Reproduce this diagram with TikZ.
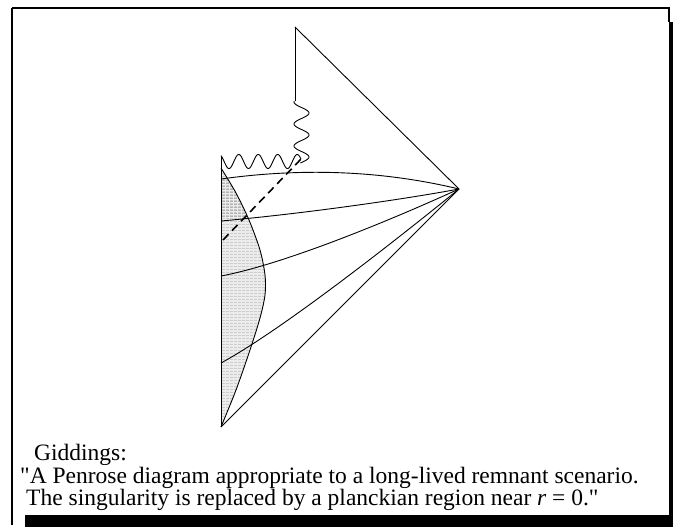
\documentclass[tikz,border=0pt]{standalone}
\usepackage{fontspec}
\setmainfont{Liberation Serif}
\begin{document}
\begin{tikzpicture}[x=1pt,y=-1pt,
  thin line/.style={line width=0.9pt, black},
  frame line/.style={line width=1.4pt, black},
  caption/.style={anchor=base west, inner sep=0pt, font=\fontsize{23.5}{27}\selectfont}]
\useasboundingbox (0,0) rectangle (673,527);
% frame with shadow
\draw[frame line] (12,8) -- (669,8) -- (669,22);
\draw[frame line] (12,8) -- (12,525);
\fill[black] (669,22) rectangle (673,527);
\fill[black] (25,515) rectangle (673,527);

% key points
\coordinate (top) at (295,27);
\coordinate (right) at (459,189);
\coordinate (bot) at (221,427);
\coordinate (lefttop) at (221,157);
\coordinate (vend) at (295,101);

% shaded planckian region
\begin{scope}
\clip plot[smooth] coordinates {(221,168) (236,193) (249,220) (260,250) (265,275) (265,295) (260,318) (250,350) (236,390) (221,427)} -- cycle;
\fill[gray!15] (215,160) rectangle (275,430);
\foreach \yy in {170,173,...,430}{
  \draw[gray!40, line width=0.7pt, dash pattern=on 3pt off 1pt] (218,\yy) -- (275,\yy);
}
\foreach \yy in {180,183,...,218}{
  \draw[gray!60, line width=0.8pt, dash pattern=on 3pt off 1pt] (218,\yy) -- (275,\yy);
}
\end{scope}
\draw[thin line] plot[smooth] coordinates {(221,168) (236,193) (249,220) (260,250) (265,275) (265,295) (260,318) (250,350) (236,390) (221,427)};

% outline
\draw[thin line] (top) -- (right);
\draw[thin line] (top) -- (vend);
\draw[thin line] (lefttop) -- (bot);
\draw[thin line] (bot) -- (right);

% curves to right vertex
\draw[thin line] (221,179) .. controls (300,168) and (380,170) .. (right);
\draw[thin line] (221,221) .. controls (300,214) and (400,200) .. (right);
\draw[thin line] (221,276) .. controls (280,265) and (380,225) .. (right);
\draw[thin line] (221,363) .. controls (280,331) and (390,245) .. (right);

% singularity wiggles
\draw[thin line] plot[domain=221:301, samples=160] (\x, {161.5 - 7*cos(18.4615*(\x-238.75))});
\draw[thin line] plot[domain=101:163, samples=140] ({301.5 + 7.5*cos(16.3636*(\x-113))}, \x);

% dashed horizon
\coordinate (dA) at (223,240);
\coordinate (dB) at (302,158);
\draw[line width=1.6pt, dash pattern=on 8pt off 5pt] (dA) -- (dB);

% caption
\node[caption] (c1) at (34,460) {Giddings:};
\node[caption] (c2) at (20,483) {\textquotedbl A Penrose diagram appropriate to a long-lived remnant scenario.};
\node[caption] (c3) at (26,505) {The singularity is replaced by a planckian region near \textit{r} = 0.\textquotedbl};
\end{tikzpicture}
\end{document}
